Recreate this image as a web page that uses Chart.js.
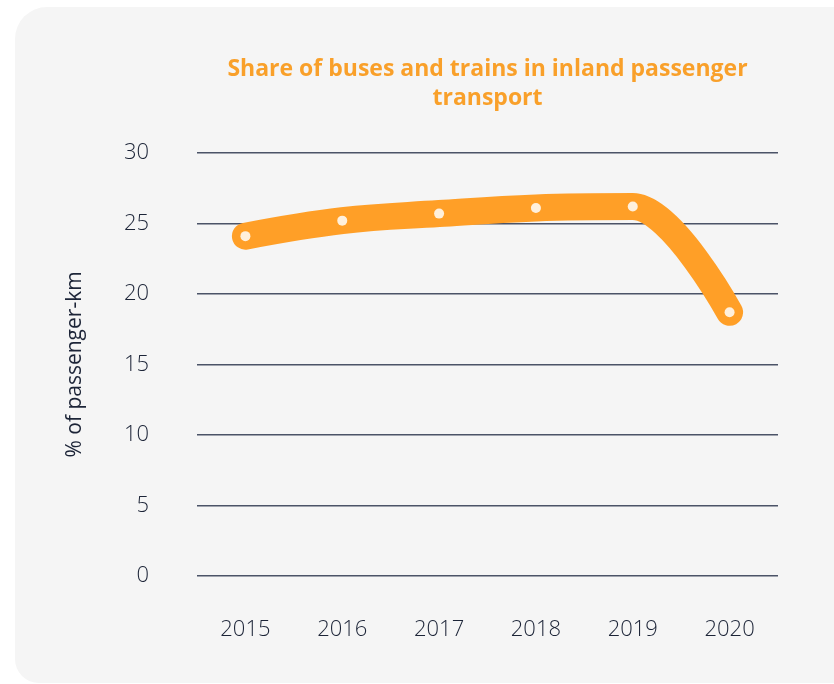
<!DOCTYPE html>
<html>
<head>
<meta charset="utf-8">
<script src="https://cdn.jsdelivr.net/npm/chart.js@4"></script>
<style>
  html, body { margin: 0; padding: 0; background: #ffffff; }
  body { width: 834px; height: 684px; position: relative; overflow: hidden; }
  .card {
    position: absolute; left: 15px; top: 7px; width: 860px; height: 676px;
    background: #f5f5f5; border-radius: 32px 32px 32px 24px;
  }
  #wrap { position: absolute; left: 0; top: 0; width: 834px; height: 684px; }
</style>
</head>
<body>
<div class="card"></div>
<div id="wrap"><canvas id="myChart" width="834" height="684"></canvas></div>
<script>
const years = ['2015', '2016', '2017', '2018', '2019', '2020'];
const shareValues = [24.1, 25.2, 25.7, 26.1, 26.2, 18.7];
const yTicks = [0, 5, 10, 15, 20, 25, 30];

const orange = '#ff9f27';
const navy = '#1c2437';

// spline smoothing: control points at 1/2.5 of the gap, kept between neighbouring y values,
// and the end points act as their own control points
const smoothSpline = {
    id: 'smoothSpline',
    beforeDatasetsDraw(chart) {
        const k = 1.5;
        chart.getSortedVisibleDatasetMetas().forEach(meta => {
            const line = meta.dataset;
            const pts = meta.data;
            if (!line || pts.length < 2) return;
            line.updateControlPoints(chart.chartArea, 'x');
            const n = pts.length - 1;
            pts.forEach((p, i) => {
                if (i === 0 || i === n) {
                    p.cp1x = p.cp2x = p.x;
                    p.cp1y = p.cp2y = p.y;
                    return;
                }
                const prev = pts[i - 1], next = pts[i + 1];
                const lx = (k * p.x + prev.x) / (k + 1);
                let ly = (k * p.y + prev.y) / (k + 1);
                const rx = (k * p.x + next.x) / (k + 1);
                let ry = (k * p.y + next.y) / (k + 1);
                const corr = ((ry - ly) * (rx - p.x)) / (rx - lx) + p.y - ry;
                ly += corr;
                ry += corr;
                if (ly > prev.y && ly > p.y) { ly = Math.max(prev.y, p.y); ry = 2 * p.y - ly; }
                else if (ly < prev.y && ly < p.y) { ly = Math.min(prev.y, p.y); ry = 2 * p.y - ly; }
                if (ry > next.y && ry > p.y) { ry = Math.max(next.y, p.y); ly = 2 * p.y - ry; }
                else if (ry < next.y && ry < p.y) { ry = Math.min(next.y, p.y); ly = 2 * p.y - ry; }
                p.cp1x = lx; p.cp1y = ly;
                p.cp2x = rx; p.cp2y = ry;
            });
        });
    }
};

const ctx = document.getElementById('myChart').getContext('2d');
new Chart(ctx, {
    type: 'line',
    data: {
        labels: years,
        datasets: [{
            label: 'Share',
            data: shareValues,
            borderColor: orange,
            borderWidth: 27,
            borderCapStyle: 'round',
            borderJoinStyle: 'round',
            tension: 0.4,
            pointRadius: 5,
            pointBorderWidth: 0,
            pointBackgroundColor: '#fff0dc',
            fill: false
        }]
    },
    options: {
        responsive: false,
        animation: false,
        layout: { padding: { left: 58, right: 56, top: 0, bottom: 41 } },
        plugins: {
            legend: { display: false },
            tooltip: { enabled: false },
            title: {
                display: true,
                fullSize: false,
                text: ['Share of buses and trains in inland passenger', 'transport'],
                color: '#f9a02a',
                font: { family: 'Open Sans', size: 23, weight: 'bold', lineHeight: 1.26 },
                padding: { top: 55, bottom: 40 }
            }
        },
        scales: {
            x: {
                offset: true,
                afterFit: (axis) => { axis.height = 67; },
                grid: { display: false, drawTicks: false },
                border: { display: false },
                ticks: {
                    color: navy,
                    padding: 41,
                    font: { family: 'Open Sans', size: 22, weight: 300 }
                }
            },
            y: {
                min: 0,
                max: 30,
                afterBuildTicks: (axis) => { axis.ticks = yTicks.map(v => ({ value: v })); },
                afterFit: (axis) => { axis.width = 139; },
                border: { display: false },
                grid: { color: '#4b5367', lineWidth: 1.5, drawTicks: false },
                ticks: {
                    color: navy,
                    padding: 48,
                    font: { family: 'Open Sans', size: 22, weight: 300 }
                },
                title: {
                    display: true,
                    text: '% of passenger-km',
                    color: navy,
                    font: { family: 'Open Sans', size: 21 }
                }
            }
        }
    },
    plugins: [smoothSpline]
});
</script>
</body>
</html>
